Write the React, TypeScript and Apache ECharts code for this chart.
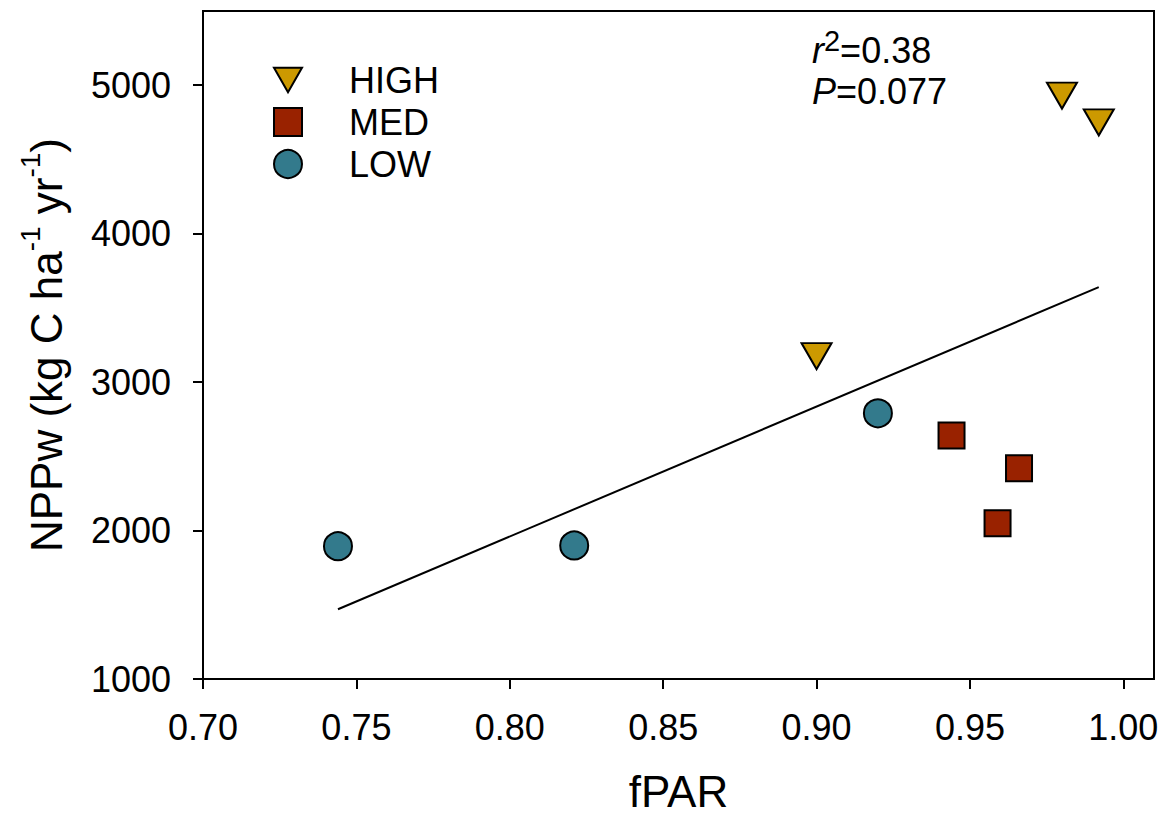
import React, { useEffect, useRef } from "react";
import * as echarts from "echarts";

const highX = [0.9, 0.98, 0.992];
const highY = [3175, 4930, 4750];
const medX = [0.944, 0.966, 0.959];
const medY = [2640, 2420, 2050];
const lowX = [0.744, 0.821, 0.92];
const lowY = [1895, 1900, 2790];
const fitX = [0.744, 0.992];
const fitY = [1470, 3640];
const xTicks = [0.7, 0.75, 0.8, 0.85, 0.9, 0.95, 1.0];
const yTicks = [1000, 2000, 3000, 4000, 5000];
const seriesNames = ["HIGH", "MED", "LOW"];

const FONT = 'Arial, "Liberation Sans", sans-serif';

const pairs = (xs: number[], ys: number[]) => xs.map((x, i) => [x, ys[i]]);

export default function App() {
  const ref = useRef<HTMLDivElement>(null);
  useEffect(() => {
    if (!ref.current) return;
    const chart = echarts.init(ref.current, undefined, { renderer: "svg" });
    chart.setOption({
      animation: false,
      backgroundColor: "#fff",
      textStyle: { fontFamily: FONT },
      grid: {
        left: 203,
        right: 11,
        top: 11,
        bottom: 138,
        containLabel: false,
        outerBoundsMode: "none",
        show: true,
        borderColor: "#000",
        borderWidth: 2,
        backgroundColor: "transparent",
      },
      legend: {
        orient: "vertical",
        left: 273,
        top: 62,
        padding: 0,
        itemWidth: 28,
        itemHeight: 28,
        itemGap: 6,
        data: [
          { name: seriesNames[0], icon: "path://M0,0L30,0L15,26Z" },
          { name: seriesNames[1], icon: "rect" },
          { name: seriesNames[2], icon: "circle" },
        ],
        textStyle: {
          fontSize: 36,
          color: "#000",
          fontFamily: FONT,
          padding: [0, 0, 0, 42],
        },
      },
      xAxis: {
        type: "value",
        min: 0.7,
        max: 1.01,
        name: "fPAR",
        nameLocation: "middle",
        nameGap: 90,
        nameTextStyle: { fontSize: 44, color: "#000", fontFamily: FONT },
        axisLine: { onZero: false, lineStyle: { color: "#000", width: 2 } },
        axisTick: { show: true, inside: false, length: 10, lineStyle: { color: "#000", width: 2 }, customValues: xTicks },
        axisLabel: {
          customValues: xTicks,
          fontSize: 36,
          color: "#000",
          margin: 30,
          fontFamily: FONT,
          formatter: (v: number) => v.toFixed(2),
        },
        splitLine: { show: false },
      },
      yAxis: {
        type: "value",
        min: 1000,
        max: 5500,
        name: "{m|NPPw (kg C ha}{s|-1}{m| yr}{s|-1}{m|)}",
        nameLocation: "middle",
        nameRotate: 90,
        nameGap: 135,
        nameTextStyle: {
          color: "#000",
          fontFamily: FONT,
          rich: {
            m: { fontSize: 44, lineHeight: 52, verticalAlign: "bottom", color: "#000", fontFamily: FONT },
            s: { fontSize: 28, lineHeight: 28, verticalAlign: "top", color: "#000", fontFamily: FONT },
          },
        },
        axisLine: { onZero: false, lineStyle: { color: "#000", width: 2 } },
        axisTick: { show: true, inside: false, length: 10, lineStyle: { color: "#000", width: 2 }, customValues: yTicks },
        axisLabel: {
          customValues: yTicks,
          fontSize: 36,
          color: "#000",
          margin: 32,
          fontFamily: FONT,
          formatter: (v: number) => String(v),
        },
        splitLine: { show: false },
      },
      graphic: [
        {
          type: "text",
          left: 812,
          top: 26,
          style: {
            text: "{i|r}{s|2}{n|=0.38}",
            fill: "#000",
            rich: {
              i: { fontSize: 36, fontStyle: "italic", fontFamily: FONT, lineHeight: 42, verticalAlign: "bottom" },
              s: { fontSize: 29, fontFamily: FONT, lineHeight: 26, verticalAlign: "top" },
              n: { fontSize: 36, fontFamily: FONT, lineHeight: 42, verticalAlign: "bottom" },
            },
          },
        },
        {
          type: "text",
          left: 812,
          top: 73,
          style: {
            text: "{i|P}{n|=0.077}",
            fill: "#000",
            rich: {
              i: { fontSize: 36, fontStyle: "italic", fontFamily: FONT, lineHeight: 38 },
              n: { fontSize: 36, fontFamily: FONT, lineHeight: 38 },
            },
          },
        },
      ],
      series: [
        {
          name: "fit",
          type: "line",
          data: pairs(fitX, fitY),
          symbol: "none",
          lineStyle: { color: "#000", width: 2 },
          z: 1,
        },
        {
          name: seriesNames[0],
          type: "scatter",
          data: pairs(highX, highY),
          symbol: "triangle",
          symbolRotate: 180,
          symbolSize: [30, 26],
          itemStyle: { color: "#CC9900", borderColor: "#000", borderWidth: 2, opacity: 1 },
          z: 3,
        },
        {
          name: seriesNames[1],
          type: "scatter",
          data: pairs(medX, medY),
          symbol: "rect",
          symbolSize: 26,
          itemStyle: { color: "#992200", borderColor: "#000", borderWidth: 2, opacity: 1 },
          z: 3,
        },
        {
          name: seriesNames[2],
          type: "scatter",
          data: pairs(lowX, lowY),
          symbol: "circle",
          symbolSize: 28,
          itemStyle: { color: "#337A8C", borderColor: "#000", borderWidth: 2, opacity: 1 },
          z: 3,
        },
      ],
    });
    return () => chart.dispose();
  }, []);
  return (
    <div
      ref={ref}
      style={{ position: "fixed", left: 0, top: 0, width: 1165, height: 817, background: "#fff" }}
    />
  );
}
